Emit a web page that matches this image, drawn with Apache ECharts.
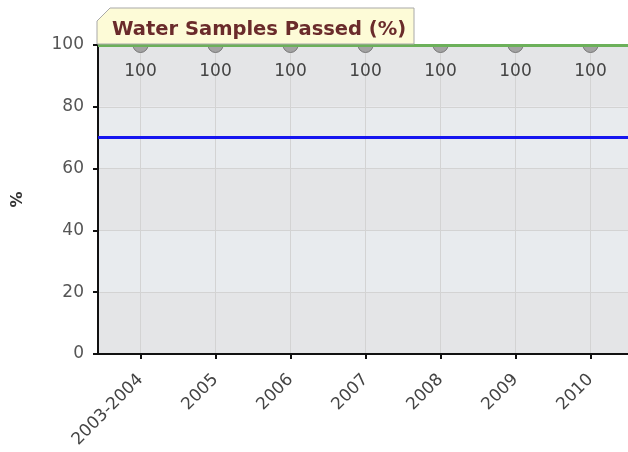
<!DOCTYPE html>
<html>
<head>
<meta charset="utf-8">
<script src="https://cdn.jsdelivr.net/npm/echarts@6/dist/echarts.min.js"></script>
<style>
  html, body { margin: 0; padding: 0; background: #fff; }
  #chart { width: 628px; height: 452px; }
</style>
</head>
<body>
<div id="chart"></div>
<script>
  var years = ['2003-2004', '2005', '2006', '2007', '2008', '2009', '2010']
  var passed = [100, 100, 100, 100, 100, 100, 100]
  var target = 70
  var yTicks = [0, 20, 40, 60, 80, 100]

  var chart = echarts.init(document.getElementById('chart'))

  var options = {
    animation: false,
    textStyle: { fontFamily: 'DejaVu Sans' },
    grid: { left: 98, right: 0, top: 45, bottom: 98 },
    xAxis: {
      type: 'value',
      min: -0.567,
      max: 6.5,
      minInterval: 1,
      maxInterval: 1,
      axisLine: { show: true, onZero: false, lineStyle: { color: '#111', width: 2 } },
      axisTick: { show: true, length: 5, lineStyle: { color: '#111', width: 2 } },
      splitLine: { show: true, lineStyle: { color: '#d3d3d3', width: 1 } },
      axisLabel: {
        rotate: 45,
        fontSize: 17,
        color: '#444',
        margin: 23,
        showMinLabel: false,
        showMaxLabel: false,
        formatter: function (v) { return years[v] || '' }
      }
    },
    yAxis: {
      type: 'value',
      min: yTicks[0],
      max: yTicks[yTicks.length - 1],
      interval: 20,
      name: '%',
      nameLocation: 'middle',
      nameGap: 72,
      nameRotate: 90,
      nameTextStyle: { fontSize: 16, color: '#333', fontWeight: 'bold' },
      axisLine: { show: true, onZero: false, lineStyle: { color: '#111', width: 2 } },
      axisTick: { show: true, length: 5, lineStyle: { color: '#111', width: 2 } },
      axisLabel: { fontSize: 17, color: '#555', margin: 14 },
      splitLine: { show: true, lineStyle: { color: '#d3d3d3', width: 1 } },
      splitArea: { show: true, areaStyle: { color: ['#e4e5e7', '#e8ebee'] } }
    },
    series: [{
      type: 'line',
      z: 3,
      data: years.map(function (y, i) { return [i, passed[i]] }),
      symbol: 'circle',
      symbolSize: 15,
      itemStyle: { color: '#a3a3a3', borderColor: '#777', borderWidth: 1 },
      lineStyle: { color: '#6cb05a', width: 3 },
      label: {
        show: true,
        position: 'bottom',
        distance: 10,
        fontSize: 17,
        color: '#444'
      },
      markLine: {
        silent: true,
        symbol: 'none',
        label: { show: false },
        data: [
          { yAxis: target, lineStyle: { color: '#1515f0', width: 3, type: 'solid' } },
          { yAxis: 100, lineStyle: { color: '#6cb05a', width: 3, type: 'solid' } }
        ]
      }
    }],
    // white strip above the plot hides the top half of the dots, then the title tab
    graphic: {
      elements: [
        {
          type: 'rect',
          zlevel: 1,
          z: 100,
          shape: { x: 99, y: 0, width: 540, height: 44 },
          style: { fill: '#ffffff' }
        },
        {
          type: 'polygon',
          zlevel: 1,
          z: 110,
          shape: { points: [[97, 21], [110, 8], [414, 8], [414, 44], [97, 44]] },
          style: { fill: '#fdfbd7', stroke: '#a9a9a9', lineWidth: 1 }
        },
        {
          type: 'text',
          zlevel: 1,
          z: 111,
          x: 112,
          y: 30,
          style: {
            text: 'Water Samples Passed (%)',
            font: 'bold 19.5px "DejaVu Sans"',
            fill: '#6a2b2b',
            verticalAlign: 'middle'
          }
        }
      ]
    }
  }

  chart.setOption(options, true)
</script>
</body>
</html>
